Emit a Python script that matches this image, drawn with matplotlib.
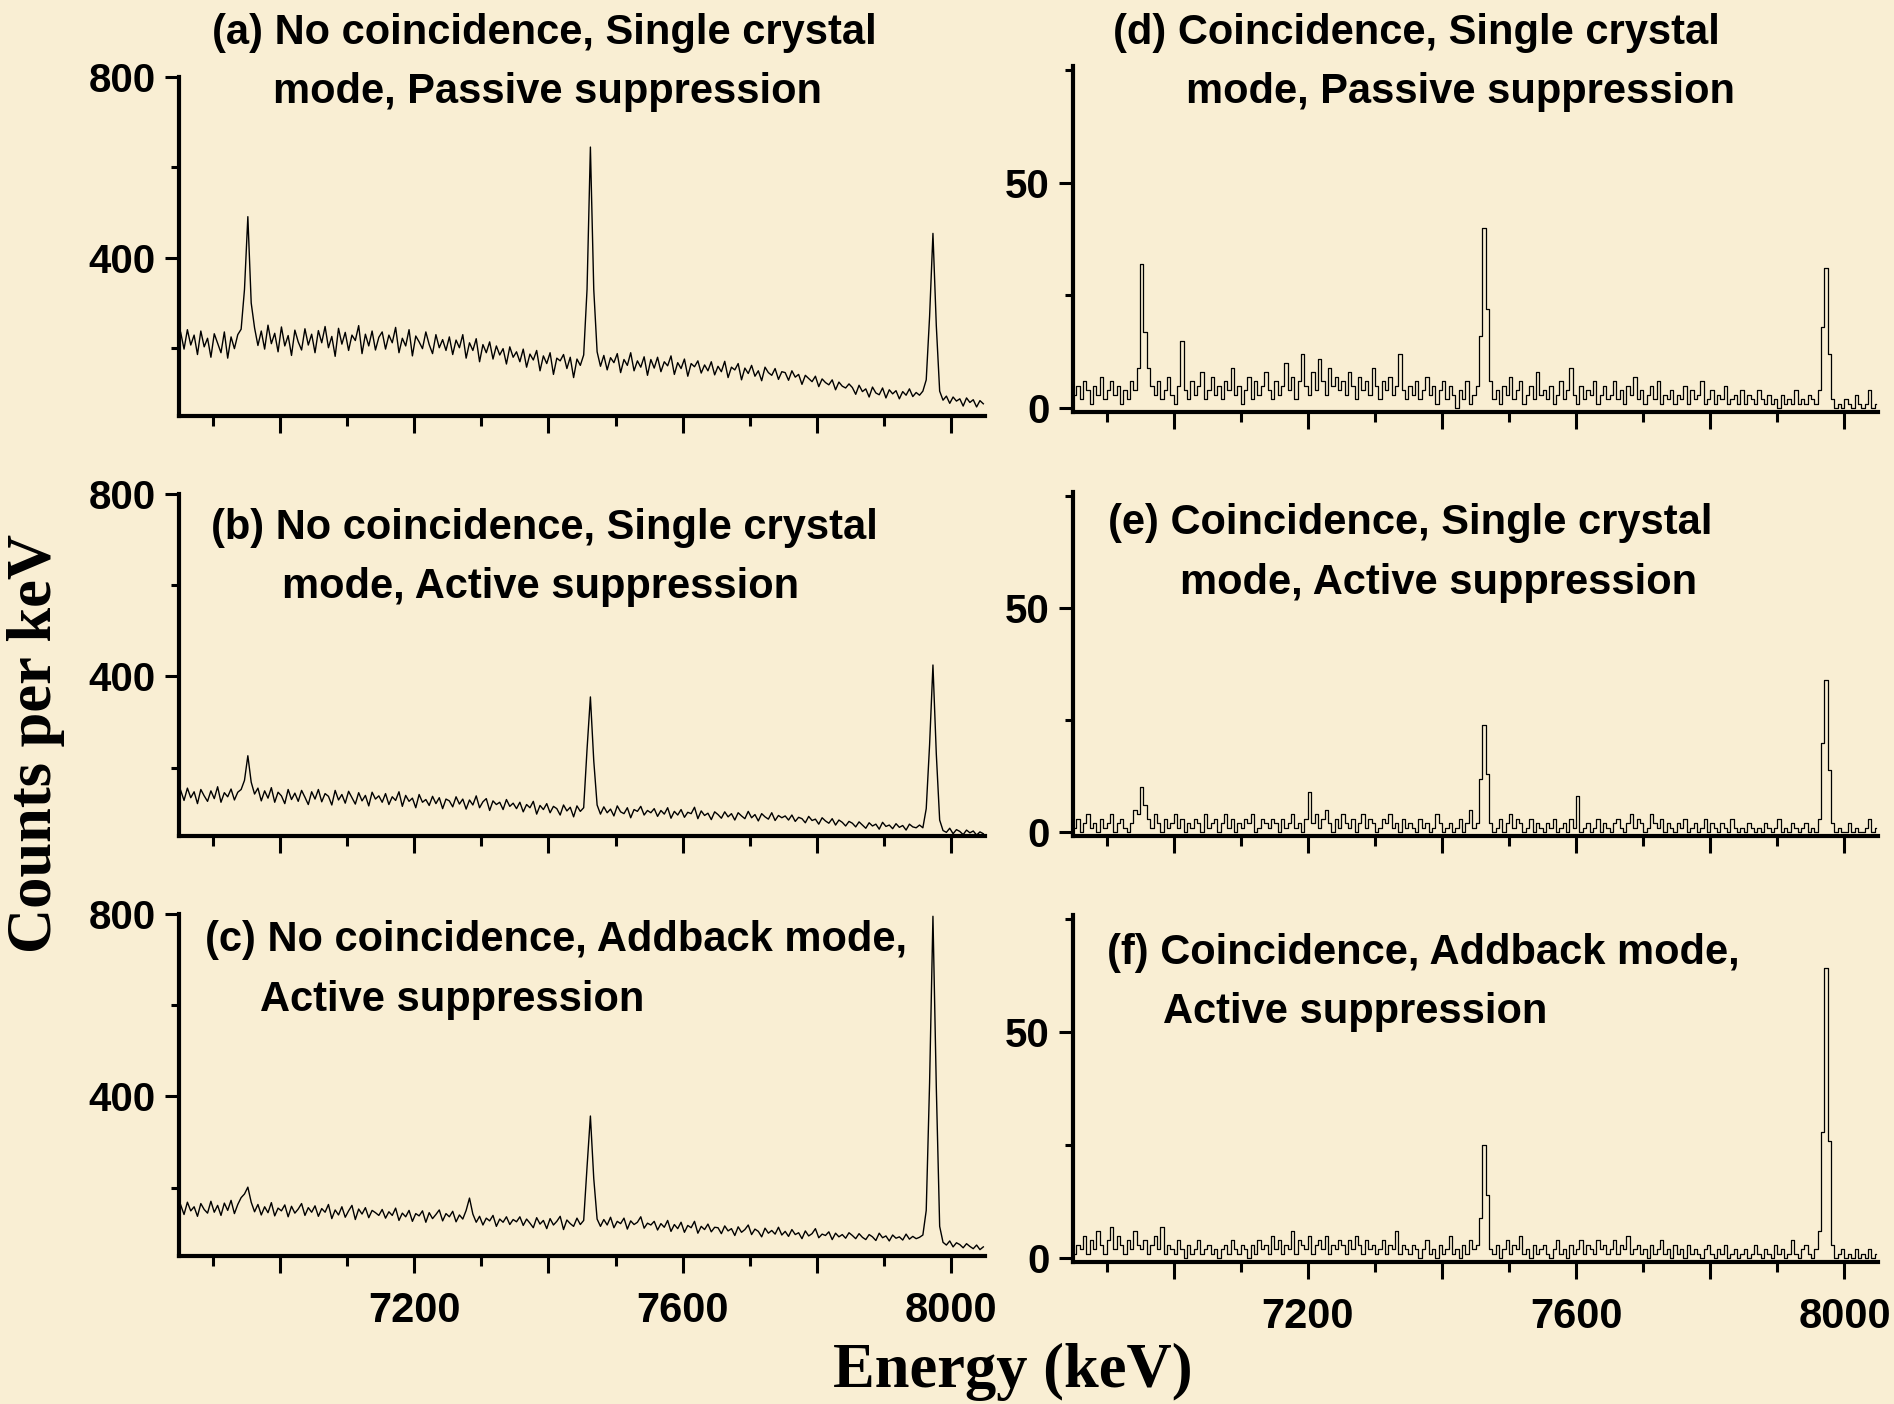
import numpy as np
import matplotlib
matplotlib.use('Agg')
import matplotlib.pyplot as plt
from matplotlib.ticker import FixedLocator, FuncFormatter

plt.rcParams['font.family'] = ['Liberation Sans', 'DejaVu Sans']
plt.rcParams['font.weight'] = 'bold'

# 5 keV wide channels, centres from 6852.5 to 8047.5 keV
energy = np.arange(6852.5, 8050, 5)

# (a) no coincidence, single crystal, passive suppression
counts_a = [
    235, 198, 241, 207, 229, 186, 238, 203, 222, 180, 232, 211, 190, 236, 178, 225, 199, 230, 242, 330,
    491, 300, 245, 206, 238, 198, 251, 210, 233, 192, 247, 205, 228, 184, 240, 214, 196, 243, 207, 231,
    190, 239, 212, 248, 201, 226, 182, 244, 209, 235, 195, 229, 217, 250, 188, 231, 205, 238, 196, 224,
    236, 198, 229, 212, 246, 190, 222, 205, 241, 183, 227, 214, 199, 236, 208, 188, 230, 201, 219, 195,
    225, 186, 218, 201, 230, 178, 212, 195, 221, 170, 208, 190, 214, 176, 205, 185, 199, 165, 203, 180,
    192, 170, 198, 158, 187, 174, 195, 150, 183, 166, 190, 142, 178, 172, 186, 155, 180, 135, 176, 162,
    185, 330, 645, 330, 192, 160, 184, 152, 179, 168, 188, 146, 175, 162, 190, 150, 172, 158, 181, 140,
    175, 156, 180, 148, 170, 161, 183, 142, 168, 155, 176, 138, 166, 159, 172, 145, 163, 150, 170, 141,
    160, 148, 171, 135, 158, 152, 166, 130, 156, 144, 162, 138, 150, 128, 158, 146, 140, 155, 131, 148,
    146, 129, 150, 136, 142, 120, 140, 133, 126, 138, 115, 132, 124, 119, 130, 108, 125, 116, 112, 121,
    113, 98, 118, 104, 110, 92, 114, 101, 97, 112, 90, 108, 99, 106, 88, 104, 96, 110, 93, 102,
    96, 105, 130, 270, 454, 250, 105, 85, 94, 78, 92, 83, 88, 72, 90, 80, 86, 70, 84, 77,
]

# (b) no coincidence, single crystal, active suppression
counts_b = [
    150, 128, 155, 134, 147, 121, 152, 138, 126, 149, 132, 158, 124, 145, 136, 153, 129, 146, 152, 172,
    226, 168, 142, 155, 127, 149, 133, 156, 124, 146, 138, 121, 152, 130, 144, 126, 150, 135, 119, 147,
    131, 152, 125, 143, 137, 118, 150, 129, 141, 122, 148, 134, 120, 145, 127, 139, 116, 146, 131, 138,
    124, 143, 119, 136, 128, 147, 115, 139, 126, 133, 112, 141, 124, 130, 117, 137, 121, 134, 110, 131,
    127, 114, 136, 120, 131, 109, 129, 118, 138, 112, 125, 132, 106, 127, 119, 124, 108, 130, 115, 122,
    110, 124, 103, 119, 112, 126, 98, 117, 108, 121, 101, 115, 110, 96, 118, 105, 113, 92, 116, 104,
    112, 240, 355, 215, 118, 98, 114, 101, 109, 94, 116, 103, 99, 112, 90, 108, 104, 115, 96, 106,
    101, 110, 93, 106, 98, 112, 89, 104, 96, 108, 91, 102, 99, 113, 88, 105, 95, 100, 86, 103,
    97, 89, 103, 92, 99, 85, 101, 94, 88, 104, 90, 97, 83, 99, 92, 87, 101, 84, 95, 90,
    94, 85, 96, 82, 91, 88, 79, 93, 84, 87, 76, 90, 83, 78, 88, 74, 85, 80, 72, 82,
    78, 70, 81, 74, 67, 79, 72, 76, 65, 80, 71, 74, 66, 77, 69, 73, 63, 76, 70, 68,
    74, 68, 110, 250, 425, 230, 85, 62, 58, 67, 55, 64, 60, 53, 63, 57, 61, 52, 59, 55,
]

# (c) no coincidence, addback mode, active suppression
counts_c = [
    162, 141, 168, 149, 158, 137, 165, 152, 144, 170, 146, 161, 139, 166, 150, 172, 143, 163, 178, 186,
    201, 168, 147, 163, 140, 158, 145, 167, 138, 155, 149, 162, 136, 159, 144, 153, 165, 139, 156, 146,
    160, 137, 154, 146, 163, 132, 151, 140, 158, 135, 149, 161, 130, 153, 142, 156, 134, 150, 145, 139,
    152, 133, 147, 139, 155, 128, 144, 136, 150, 126, 143, 138, 149, 124, 145, 132, 141, 151, 127, 143,
    136, 148, 125, 140, 131, 150, 177, 142, 124, 137, 118, 133, 127, 139, 115, 131, 124, 136, 119, 130,
    125, 136, 117, 131, 122, 112, 134, 120, 128, 110, 132, 118, 126, 137, 108, 129, 121, 115, 133, 119,
    128, 245, 357, 220, 131, 115, 130, 118, 135, 112, 126, 121, 133, 109, 127, 119, 124, 136, 111, 122,
    118, 126, 107, 121, 113, 128, 104, 119, 110, 124, 102, 117, 112, 126, 100, 115, 108, 120, 103, 113,
    112, 99, 116, 105, 110, 95, 114, 102, 108, 118, 97, 109, 104, 92, 111, 100, 106, 98, 113, 96,
    104, 93, 108, 97, 101, 88, 105, 94, 99, 110, 90, 98, 95, 103, 86, 100, 92, 97, 89, 101,
    95, 88, 99, 91, 86, 97, 92, 84, 100, 90, 94, 83, 96, 89, 92, 85, 98, 87, 93, 88,
    91, 96, 150, 430, 795, 420, 115, 80, 74, 83, 70, 79, 75, 68, 77, 71, 66, 74, 64, 70,
]

# (d) coincidence, single crystal, passive suppression
counts_d = [
    3, 5, 2, 6, 4, 1, 5, 3, 7, 2, 4, 6, 3, 5, 1, 4, 2, 6, 4, 9,
    32, 17, 9, 5, 3, 6, 2, 4, 7, 3, 1, 5, 15, 4, 2, 6, 3, 5, 8, 2,
    4, 7, 3, 5, 2, 6, 4, 9, 3, 5, 1, 4, 7, 2, 6, 3, 5, 8, 4, 2,
    6, 3, 5, 10, 4, 7, 2, 6, 12, 5, 3, 8, 4, 11, 6, 3, 9, 5, 7, 4,
    6, 3, 8, 5, 2, 7, 4, 6, 3, 9, 5, 2, 6, 4, 7, 3, 5, 12, 4, 2,
    5, 3, 6, 2, 4, 7, 3, 5, 1, 4, 6, 2, 5, 3, 0, 4, 2, 6, 1, 3,
    5, 16, 40, 22, 6, 2, 4, 1, 5, 3, 7, 2, 4, 6, 1, 3, 5, 2, 8, 3,
    4, 2, 5, 1, 3, 6, 2, 4, 9, 3, 1, 5, 2, 4, 3, 6, 1, 3, 5, 2,
    3, 6, 2, 4, 1, 5, 3, 7, 2, 4, 1, 3, 5, 2, 6, 1, 3, 2, 4, 1,
    3, 2, 5, 1, 4, 2, 3, 6, 1, 2, 4, 1, 3, 2, 5, 1, 2, 3, 1, 4,
    1, 3, 2, 1, 4, 2, 1, 3, 1, 2, 0, 3, 1, 2, 1, 4, 1, 2, 1, 3,
    2, 1, 4, 18, 31, 12, 2, 0, 1, 0, 2, 1, 0, 3, 1, 0, 1, 4, 0, 1,
]

# (e) coincidence, single crystal, active suppression
counts_e = [
    1, 3, 0, 2, 4, 1, 2, 0, 3, 1, 2, 4, 0, 2, 3, 1, 0, 2, 5, 4,
    10, 6, 3, 1, 4, 2, 0, 3, 1, 2, 4, 1, 3, 0, 2, 1, 3, 2, 0, 4,
    1, 2, 3, 0, 2, 4, 1, 3, 0, 2, 1, 3, 2, 4, 0, 1, 3, 2, 1, 3,
    2, 0, 3, 1, 2, 4, 1, 2, 0, 3, 9, 2, 4, 1, 3, 5, 2, 0, 3, 1,
    4, 2, 1, 3, 0, 2, 4, 1, 3, 2, 0, 1, 3, 2, 4, 1, 2, 0, 3, 1,
    2, 1, 0, 3, 1, 2, 0, 1, 4, 2, 0, 1, 2, 0, 1, 3, 0, 2, 5, 1,
    2, 12, 24, 13, 2, 0, 1, 3, 0, 2, 4, 1, 3, 2, 0, 1, 3, 0, 2, 1,
    0, 2, 1, 3, 0, 1, 2, 0, 3, 1, 8, 0, 1, 2, 0, 1, 3, 0, 2, 1,
    0, 2, 3, 1, 0, 2, 4, 1, 3, 2, 0, 1, 4, 2, 1, 3, 0, 2, 1, 0,
    2, 1, 3, 0, 1, 2, 0, 1, 3, 0, 2, 1, 0, 2, 1, 0, 3, 1, 0, 1,
    0, 2, 1, 0, 1, 0, 2, 1, 0, 1, 3, 0, 1, 0, 2, 1, 0, 1, 2, 0,
    1, 0, 3, 20, 34, 14, 2, 0, 1, 0, 0, 2, 0, 1, 0, 0, 1, 3, 0, 1,
]

# (f) coincidence, addback mode, active suppression
counts_f = [
    1, 3, 2, 5, 1, 4, 2, 6, 3, 1, 4, 7, 2, 5, 3, 1, 4, 2, 6, 3,
    2, 4, 1, 3, 5, 2, 7, 1, 3, 2, 1, 4, 2, 0, 3, 1, 2, 4, 1, 2,
    3, 1, 2, 0, 2, 3, 1, 4, 2, 1, 3, 2, 0, 3, 1, 4, 2, 3, 1, 5,
    2, 4, 1, 3, 2, 6, 1, 4, 3, 2, 5, 1, 3, 4, 2, 5, 1, 3, 2, 4,
    3, 1, 4, 2, 5, 3, 1, 4, 2, 3, 1, 2, 4, 1, 3, 2, 6, 1, 3, 2,
    1, 3, 2, 0, 2, 4, 1, 2, 0, 3, 1, 2, 5, 1, 2, 0, 3, 1, 4, 2,
    3, 9, 25, 14, 2, 1, 3, 0, 2, 4, 1, 3, 2, 5, 1, 2, 0, 3, 1, 2,
    3, 1, 0, 2, 4, 1, 2, 0, 3, 1, 2, 4, 1, 3, 2, 1, 4, 2, 3, 1,
    2, 4, 1, 3, 2, 5, 1, 2, 3, 1, 2, 0, 3, 1, 2, 4, 1, 2, 0, 3,
    1, 2, 0, 3, 1, 2, 1, 0, 2, 3, 1, 0, 2, 1, 3, 0, 1, 2, 0, 1,
    2, 0, 1, 3, 1, 0, 2, 1, 0, 3, 1, 2, 0, 1, 4, 1, 0, 2, 3, 1,
    0, 2, 6, 28, 64, 26, 3, 0, 1, 2, 0, 1, 0, 2, 0, 1, 0, 2, 0, 1,
]

titles = {
    'a': ['(a) No coincidence, Single crystal', 'mode, Passive suppression'],
    'b': ['(b) No coincidence, Single crystal', 'mode, Active suppression'],
    'c': ['(c) No coincidence, Addback mode,', 'Active suppression'],
    'd': ['(d) Coincidence, Single crystal', 'mode, Passive suppression'],
    'e': ['(e) Coincidence, Single crystal', 'mode, Active suppression'],
    'f': ['(f) Coincidence, Addback mode,', 'Active suppression'],
}

x_major = [7000, 7200, 7400, 7600, 7800, 8000]
x_minor = [6900, 7100, 7300, 7500, 7700, 7900]
x_labelled = [7200, 7600, 8000]

W, H = 1894, 1404
bg = '#f9eed3'


def px_box(left, top, right, bottom):
    # pixel box -> figure fraction [l, b, w, h]
    return [left / W, 1 - bottom / H, (right - left) / W, (bottom - top) / H]


def style_axis(ax, left_col, show_x):
    ax.set_facecolor('none')
    ax.set_xlim(6850, 8050)
    for s in ['top', 'right']:
        ax.spines[s].set_visible(False)
    for s in ['left', 'bottom']:
        ax.spines[s].set_linewidth(3)
    ax.xaxis.set_major_locator(FixedLocator(x_major))
    ax.xaxis.set_minor_locator(FixedLocator(x_minor))
    ax.xaxis.set_major_formatter(FuncFormatter(lambda v, p: '%d' % v if v in x_labelled else ''))
    if left_col:
        ax.set_ylim(50, 800)
        ax.yaxis.set_major_locator(FixedLocator([400, 800]))
        ax.yaxis.set_minor_locator(FixedLocator([200, 600]))
    else:
        ax.set_ylim(-0.8, 75.8)
        ax.yaxis.set_major_locator(FixedLocator([0, 50]))
        ax.yaxis.set_minor_locator(FixedLocator([25, 75]))
    ax.tick_params(axis='x', which='major', direction='out', length=12, width=2.2,
                   pad=13, labelsize=30, labelbottom=show_x)
    ax.tick_params(axis='x', which='minor', direction='out', length=7, width=2.2)
    ax.tick_params(axis='y', which='major', direction='out', length=10, width=2.2,
                   pad=7, labelsize=29)
    ax.tick_params(axis='y', which='minor', direction='out', length=6, width=2.2)


fig = plt.figure(figsize=(W / 100, H / 100), dpi=100, facecolor=bg)

panels = [
    ('a', counts_a, px_box(179, 77, 985, 416), True, False),
    ('b', counts_b, px_box(179, 494, 985, 836), True, False),
    ('c', counts_c, px_box(179, 914, 985, 1256), True, True),
    ('d', counts_d, px_box(1073, 66, 1878, 412), False, False),
    ('e', counts_e, px_box(1073, 492, 1878, 836), False, False),
    ('f', counts_f, px_box(1073, 915, 1878, 1262), False, True),
]

for key, counts, box, left_col, show_x in panels:
    ax = fig.add_axes(box)
    if left_col:
        ax.plot(energy, counts, color='black', lw=1.0)
    else:
        ax.plot(energy, counts, color='black', lw=0.9, drawstyle='steps-mid')
    style_axis(ax, left_col, show_x)

# panel captions, two lines each (centre x, centre y in pixels)
title_pos = {
    'a': [(544, 33), (547, 92)],
    'b': [(544, 528), (541, 587)],
    'c': [(556, 940), (452, 1000)],
    'd': [(1416, 33), (1460, 92)],
    'e': [(1410, 523), (1439, 583)],
    'f': [(1423, 953), (1355, 1012)],
}
for key, lines in titles.items():
    for txt, (cx, cy) in zip(lines, title_pos[key]):
        fig.text(cx / W, 1 - cy / H, txt, ha='center', va='center',
                 fontsize=30, fontweight='bold')

fig.text(36 / W, 1 - 743 / H, 'Counts per keV', rotation=90, ha='center', va='center',
         fontsize=45, fontweight='bold', family=['Liberation Serif', 'DejaVu Serif'])
fig.text(1013 / W, 1 - 1372 / H, 'Energy (keV)', ha='center', va='center',
         fontsize=45, fontweight='bold', family=['Liberation Serif', 'DejaVu Serif'])

fig.savefig('out.png', dpi=100, facecolor=bg)
